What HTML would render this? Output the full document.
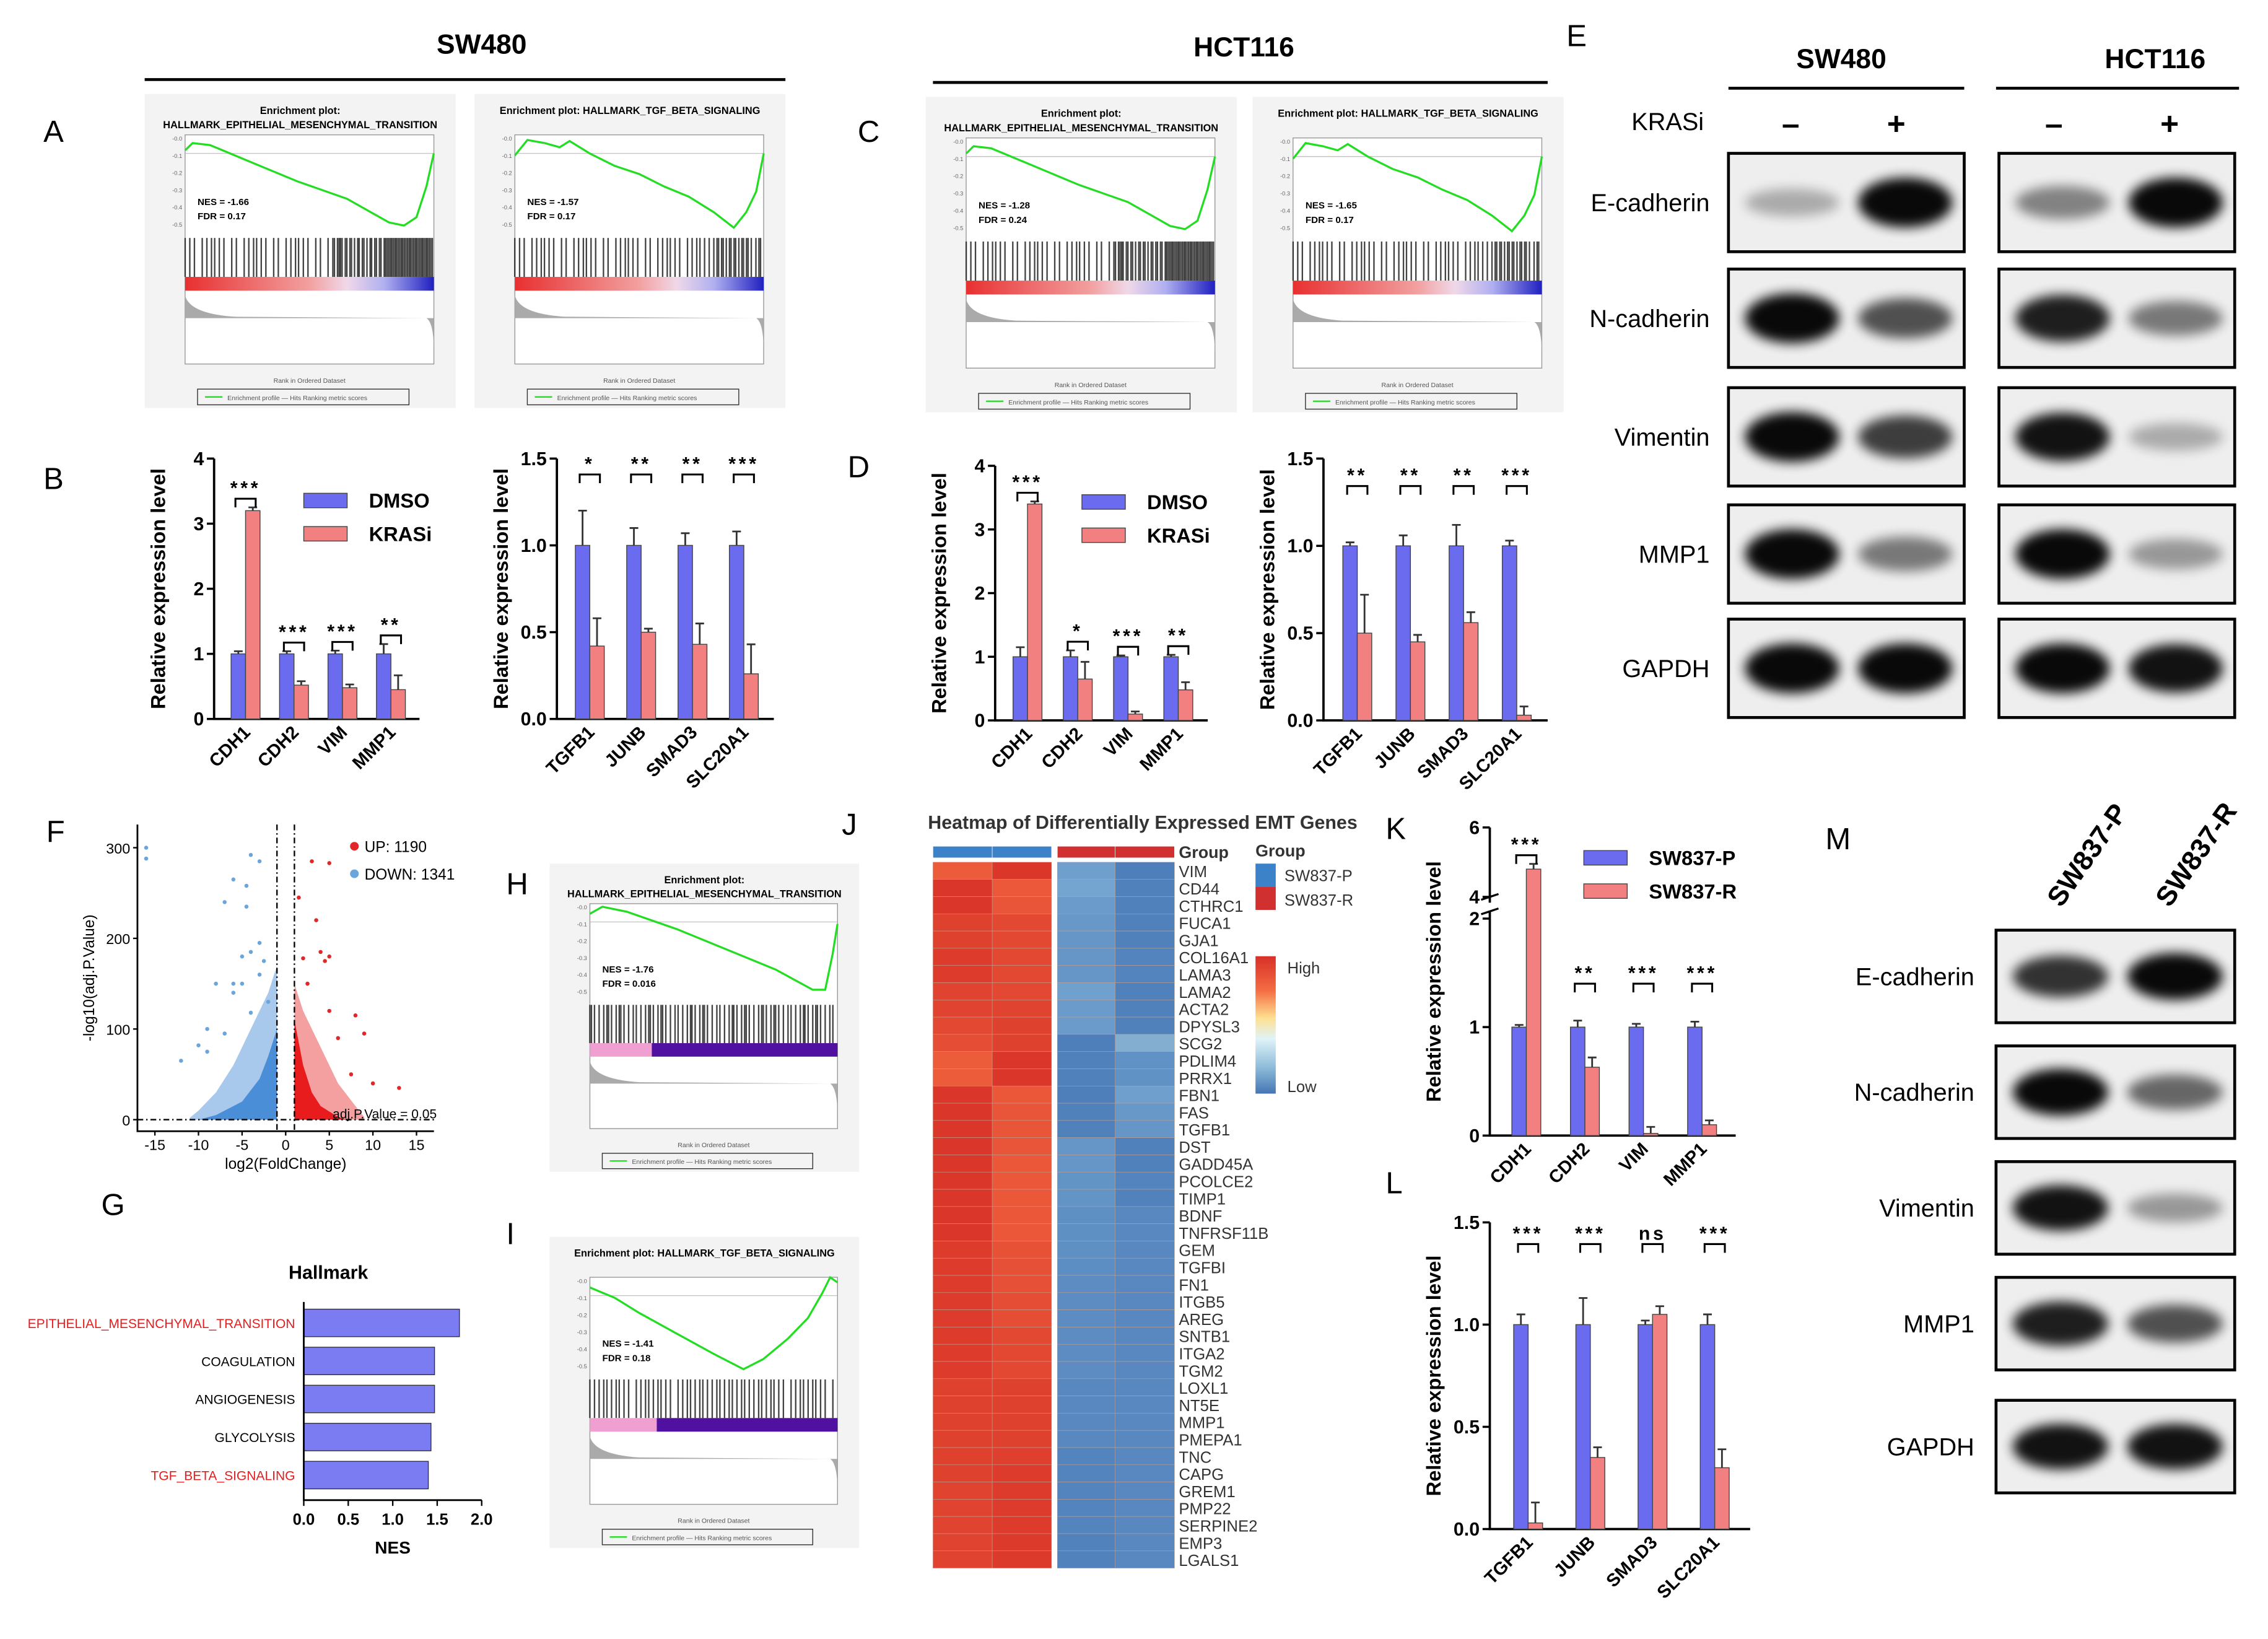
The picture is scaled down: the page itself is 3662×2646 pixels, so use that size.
<!DOCTYPE html>
<html><head><meta charset="utf-8"><style>
html,body{margin:0;padding:0;background:#fff}
svg{display:block;font-family:"Liberation Sans",Arial,sans-serif}
</style></head><body>
<svg id="fig" xmlns="http://www.w3.org/2000/svg" width="3662" height="2646" viewBox="0 0 1568 1133">
<defs>
<filter id="blur" x="-30%" y="-60%" width="160%" height="220%"><feGaussianBlur stdDeviation="4"/></filter>
<linearGradient id="cbar" x1="0" y1="0" x2="0" y2="1">
<stop offset="0" stop-color="#d73027"/><stop offset="0.25" stop-color="#f46d43"/><stop offset="0.45" stop-color="#fee090"/><stop offset="0.6" stop-color="#e0f3f8"/><stop offset="0.8" stop-color="#91bfdb"/><stop offset="1" stop-color="#4575b4"/></linearGradient>
<linearGradient id="gsbar" x1="0" y1="0" x2="1" y2="0">
<stop offset="0" stop-color="#e83030"/><stop offset="0.5" stop-color="#f2a0a0"/><stop offset="0.65" stop-color="#f0d8e8"/><stop offset="0.8" stop-color="#b0b0f0"/><stop offset="1" stop-color="#2020c0"/></linearGradient>
</defs>
<g id="static" font-weight="bold">
<text x="333" y="37" font-size="19" text-anchor="middle">SW480</text>
<line x1="100" y1="55" x2="543" y2="55" stroke="#000" stroke-width="2"/>
<text x="860" y="39" font-size="19" text-anchor="middle">HCT116</text>
<line x1="645" y1="57" x2="1070" y2="57" stroke="#000" stroke-width="2"/>
<text x="1273" y="47" font-size="19" text-anchor="middle">SW480</text>
<line x1="1195" y1="61" x2="1358" y2="61" stroke="#000" stroke-width="2"/>
<text x="1490" y="47" font-size="19" text-anchor="middle">HCT116</text>
<line x1="1380" y1="61" x2="1548" y2="61" stroke="#000" stroke-width="2"/>
</g>
<g id="letters" font-size="21" font-weight="normal">
<text x="30" y="98">A</text>
<text x="30" y="338">B</text>
<text x="593" y="98">C</text>
<text x="586" y="330">D</text>
<text x="1083" y="32">E</text>
<text x="32" y="582">F</text>
<text x="70" y="840">G</text>
<text x="350" y="618">H</text>
<text x="350" y="860">I</text>
<text x="582" y="577">J</text>
<text x="958" y="580">K</text>
<text x="958" y="825">L</text>
<text x="1262" y="587">M</text>
</g>
</svg>
<script>
const NS='http://www.w3.org/2000/svg';
const svg=document.getElementById('fig');
function mk(tag,attrs,parent){const e=document.createElementNS(NS,tag);for(const k in attrs)e.setAttribute(k,attrs[k]);(parent||svg).appendChild(e);return e;}
function txt(s,attrs,parent){const e=mk('text',attrs,parent);e.textContent=s;return e;}

/* ---------------- Bar chart data ---------------- */
const catsB1=['CDH1','CDH2','VIM','MMP1'];
const dmsoB1=[1,1,1,1];
const krasB1=[3.2,0.52,0.48,0.45];
const errDB1=[0.04,0.04,0.05,0.15];
const errKB1=[0.05,0.06,0.05,0.22];
const sigB1=['***','***','***','**'];

const catsB2=['TGFB1','JUNB','SMAD3','SLC20A1'];
const dmsoB2=[1,1,1,1];
const krasB2=[0.42,0.5,0.43,0.26];
const errDB2=[0.2,0.1,0.07,0.08];
const errKB2=[0.16,0.02,0.12,0.17];
const sigB2=['*','**','**','***'];

const catsD1=['CDH1','CDH2','VIM','MMP1'];
const dmsoD1=[1,1,1,1];
const krasD1=[3.4,0.65,0.1,0.48];
const errDD1=[0.15,0.1,0.02,0.03];
const errKD1=[0.04,0.27,0.04,0.12];
const sigD1=['***','*','***','**'];

const catsD2=['TGFB1','JUNB','SMAD3','SLC20A1'];
const dmsoD2=[1,1,1,1];
const krasD2=[0.5,0.45,0.56,0.03];
const errDD2=[0.02,0.06,0.12,0.03];
const errKD2=[0.22,0.04,0.06,0.05];
const sigD2=['**','**','**','***'];

const catsK=['CDH1','CDH2','VIM','MMP1'];
const parK=[1,1,1,1];
const resK=[4.8,0.63,0.02,0.1];
const errPK=[0.02,0.06,0.03,0.05];
const errRK=[0.15,0.09,0.06,0.04];
const sigK=['***','**','***','***'];

const catsL=['TGFB1','JUNB','SMAD3','SLC20A1'];
const parL=[1,1,1,1];
const resL=[0.03,0.35,1.05,0.3];
const errPL=[0.05,0.13,0.02,0.05];
const errRL=[0.1,0.05,0.04,0.09];
const sigL=['***','***','ns','***'];

const BLUE='#6b6bf0',RED='#f28080';

function barChart(c){
  const g=mk('g',{});
  
  
  const sc=c.scale||(v=>c.y1-v/c.max*(c.y1-c.y0));
  const ax=mk('path',{d:`M${c.x0},${c.y0} V${c.y1} H${c.x1}`,stroke:'#000','stroke-width':1.6,fill:'none'},g);
  
  
  c.ticks.forEach((t,i)=>{
    const y=sc(t);
    mk('line',{x1:c.x0-5,y1:y,x2:c.x0,y2:y,stroke:'#000','stroke-width':1.5},g);
    const tl=txt(c.tickLabels[i],{x:c.x0-7,y:y+4.5,'font-size':13,'text-anchor':'end','font-weight':'bold'},g);
    
    
  });
  const yl=txt(c.ylabel,{x:0,y:0,'font-size':14,'font-weight':'bold','text-anchor':'middle',transform:`translate(${c.x0-34},${(c.y0+c.y1)/2+c.ylOff}) rotate(-90)`},g);
  
  
  const n=c.cats.length, gw=(c.x1-c.x0-8)/n, bw=c.bw||10;
  c.cats.forEach((cat,i)=>{
    const cx=c.x0+8+gw*(i+0.5)-3;
    const vals=[c.a[i],c.b[i]],errs=[c.ea[i],c.eb[i]];
    let top=c.y1;
    vals.forEach((v,j)=>{
      const x=cx-bw+j*bw, y=sc(v);
      const r=mk('rect',{x:x,y:y,width:bw,height:c.y1-y,fill:j?RED:BLUE,stroke:'#444','stroke-width':0.6},g);
      
      
      const ye=sc(v+errs[j]);
      mk('path',{d:`M${x+bw/2},${y} V${ye} M${x+bw/2-3},${ye} H${x+bw/2+3}`,stroke:'#333','stroke-width':1.2,fill:'none'},g);
      top=Math.min(top,ye);
    });
    const by=Math.min(top-6,c.sigY?c.sigY:top-6);
    mk('path',{d:`M${cx-bw/2-2},${by+6} V${by} H${cx+bw/2+2} V${by+6}`,stroke:'#000','stroke-width':1.3,fill:'none'},g);
    const st=txt(c.sig[i],{x:cx,y:by-3,'font-size':13,'text-anchor':'middle','font-weight':'bold','letter-spacing':'2'},g);
    
    
    const cl=txt(cat,{x:0,y:0,'font-size':12.5,'font-weight':'bold','text-anchor':'end',transform:`translate(${cx+4},${c.y1+10}) rotate(-45)`},g);
    
    
  });
  if(c.legend){
    c.legend.labels.forEach((lab,j)=>{
      const lr=mk('rect',{x:c.legend.x,y:c.legend.y+j*23-7,width:30,height:10,fill:j?RED:BLUE,stroke:'#444','stroke-width':0.6},g);
      
      
      const lt=txt(lab,{x:c.legend.x+45,y:c.legend.y+j*23+3,'font-size':14,'font-weight':'bold'},g);
      
      
    });
  }
}
const RL='Relative expression level';
barChart({name:'chart-b1',x0:148,x1:290,y0:317,y1:497,max:4,ticks:[0,1,2,3,4],tickLabels:['0','1','2','3','4'],cats:catsB1,a:dmsoB1,b:krasB1,ea:errDB1,eb:errKB1,sig:sigB1,ylabel:RL,ylOff:0,legend:{x:210,y:348,labels:['DMSO','KRASi']}});
barChart({name:'chart-b2',x0:385,x1:535,y0:317,y1:497,max:1.5,ticks:[0,0.5,1,1.5],tickLabels:['0.0','0.5','1.0','1.5'],cats:catsB2,a:dmsoB2,b:krasB2,ea:errDB2,eb:errKB2,sig:sigB2,ylabel:RL,ylOff:0,sigY:328});
barChart({name:'chart-d1',x0:688,x1:835,y0:322,y1:498,max:4,ticks:[0,1,2,3,4],tickLabels:['0','1','2','3','4'],cats:catsD1,a:dmsoD1,b:krasD1,ea:errDD1,eb:errKD1,sig:sigD1,ylabel:RL,ylOff:0,legend:{x:748,y:349,labels:['DMSO','KRASi']}});
barChart({name:'chart-d2',x0:915,x1:1070,y0:317,y1:498,max:1.5,ticks:[0,0.5,1,1.5],tickLabels:['0.0','0.5','1.0','1.5'],cats:catsD2,a:dmsoD2,b:krasD2,ea:errDD2,eb:errKD2,sig:sigD2,ylabel:RL,ylOff:0,sigY:336});
const kScale=v=>v<=2?785-v*75:620-(v-4)*24;
barChart({name:'chart-k',x0:1030,x1:1200,y0:572,y1:785,scale:kScale,ticks:[0,1,2,4,6],tickLabels:['0','1','2','4','6'],cats:catsK,a:parK,b:resK,ea:errPK,eb:errRK,sig:sigK,ylabel:RL,ylOff:0,legend:{x:1095,y:595,labels:['SW837-P','SW837-R']},sigY:680});
mk('rect',{x:1024,y:624,width:12,height:6,fill:'#fff'});
mk('path',{d:'M1024,622 l12,-4 M1024,632 l12,-4',stroke:'#000','stroke-width':1.4});
barChart({name:'chart-l',x0:1030,x1:1210,y0:845,y1:1057,max:1.5,ticks:[0,0.5,1,1.5],tickLabels:['0.0','0.5','1.0','1.5'],cats:catsL,a:parL,b:resL,ea:errPL,eb:errRL,sig:sigL,ylabel:RL,ylOff:0,sigY:860});

/* ---------------- GSEA panels ---------------- */
function gsea(name,x,y,w,h,t1,t2,nes,fdr,curve,hitDensity,split){
  const g=mk('g',{});
  
  
  mk('rect',{x:x,y:y,width:w,height:h,fill:'#f3f3f3'},g);
  txt(t1,{x:x+w/2,y:y+0.045*h+4,'font-size':7,'font-weight':'bold','text-anchor':'middle'},g);
  if(t2)txt(t2,{x:x+w/2,y:y+0.095*h+3,'font-size':7,'font-weight':'bold','text-anchor':'middle'},g);
  const px=x+0.13*w,pw=0.8*w,py=y+0.13*h,ph=0.73*h;
  mk('rect',{x:px,y:py,width:pw,height:ph,fill:'#fff',stroke:'#999','stroke-width':0.6},g);
  const cTop=py,cBot=py+0.45*ph;
  mk('line',{x1:px,y1:cTop+0.18*(cBot-cTop),x2:px+pw,y2:cTop+0.18*(cBot-cTop),stroke:'#bbb','stroke-width':0.5},g);
  let d='';
  curve.forEach((p,i)=>{d+=(i?'L':'M')+(px+p[0]*pw).toFixed(1)+','+(cTop+p[1]*(cBot-cTop)).toFixed(1);});
  const cp=mk('path',{d:d,stroke:'#22dd22','stroke-width':1.4,fill:'none'},g);
  
  
  for(let i=0;i<6;i++)txt('-0.'+i,{x:px-2,y:cTop+4+i*(cBot-cTop)/6,'font-size':4,'text-anchor':'end',fill:'#666'},g);
  txt(nes,{x:px+0.05*pw,y:cTop+0.68*(cBot-cTop),'font-size':6.5,'font-weight':'bold'},g);
  txt(fdr,{x:px+0.05*pw,y:cTop+0.82*(cBot-cTop),'font-size':6.5,'font-weight':'bold'},g);
  const hTop=cBot,hBot=py+0.62*ph;
  let hd='';
  for(let i=0;i<160;i++){
    const f=i/160;
    const dens=hitDensity(f);
    if(((i*37)%100)/100<dens) hd+=`M${(px+f*pw).toFixed(1)},${hTop} V${hBot}`;
  }
  mk('path',{d:hd,stroke:'#222','stroke-width':1,fill:'none',opacity:0.85},g);
  mk('rect',{x:px,y:hBot,width:pw,height:0.06*ph,fill:split?'none':'url(#gsbar)'},g);
  if(split){
    mk('rect',{x:px,y:hBot,width:pw*split,height:0.06*ph,fill:'#f0a0d0'},g);
    mk('rect',{x:px+pw*split,y:hBot,width:pw*(1-split),height:0.06*ph,fill:'#5010a0'},g);
  }
  const zy=py+0.8*ph;
  mk('path',{d:`M${px},${py+0.7*ph} Q${px+3},${zy-3} ${px+0.2*pw},${zy-1} L${px+pw*0.97},${zy} Q${px+pw},${zy+3} ${px+pw},${py+0.95*ph} L${px+pw},${zy} L${px},${zy} Z`,fill:'#aaa'},g);
  txt('Rank in Ordered Dataset',{x:px+pw/2,y:y+0.92*h,'font-size':4.5,'text-anchor':'middle',fill:'#555'},g);
  mk('rect',{x:px+0.05*pw,y:y+0.94*h,width:0.85*pw,height:0.05*h,fill:'none',stroke:'#333','stroke-width':0.6},g);
  mk('line',{x1:px+0.08*pw,y1:y+0.965*h,x2:px+0.15*pw,y2:y+0.965*h,stroke:'#22dd22','stroke-width':1},g);
  txt('Enrichment profile — Hits     Ranking metric scores',{x:px+0.17*pw,y:y+0.975*h,'font-size':4.5,fill:'#555'},g);
}
const curveEMT=[[0,0.15],[0.03,0.08],[0.1,0.1],[0.25,0.25],[0.45,0.45],[0.65,0.62],[0.82,0.85],[0.88,0.88],[0.93,0.8],[0.97,0.5],[1,0.18]];
const curveTGF=[[0,0.2],[0.05,0.05],[0.12,0.08],[0.18,0.12],[0.22,0.06],[0.3,0.18],[0.4,0.3],[0.5,0.38],[0.6,0.5],[0.7,0.6],[0.8,0.75],[0.88,0.9],[0.93,0.75],[0.97,0.55],[1,0.18]];
const curveH=[[0,0.1],[0.05,0.03],[0.15,0.08],[0.35,0.25],[0.55,0.45],[0.75,0.65],[0.9,0.85],[0.95,0.85],[0.98,0.5],[1,0.2]];
const curveI=[[0,0.1],[0.1,0.2],[0.2,0.35],[0.35,0.55],[0.5,0.75],[0.62,0.9],[0.7,0.8],[0.8,0.6],[0.88,0.4],[0.94,0.15],[0.97,0.0],[1,0.05]];
const dA=f=>f<0.6?0.3:(f<0.8?0.65:1);
gsea('gsea-a-emt',100,65,215,217,'Enrichment plot:','HALLMARK_EPITHELIAL_MESENCHYMAL_TRANSITION','NES = -1.66','FDR = 0.17',curveEMT,dA);
gsea('gsea-a-tgf',328,65,215,217,'Enrichment plot: HALLMARK_TGF_BETA_SIGNALING','','NES = -1.57','FDR = 0.17',curveTGF,f=>f<0.8?0.3:0.6);
gsea('gsea-c-emt',640,67,215,218,'Enrichment plot:','HALLMARK_EPITHELIAL_MESENCHYMAL_TRANSITION','NES = -1.28','FDR = 0.24',curveEMT,dA);
gsea('gsea-c-tgf',866,67,215,218,'Enrichment plot: HALLMARK_TGF_BETA_SIGNALING','','NES = -1.65','FDR = 0.17',curveTGF,f=>f<0.8?0.3:0.6);
gsea('gsea-h',380,597,214,213,'Enrichment plot:','HALLMARK_EPITHELIAL_MESENCHYMAL_TRANSITION','NES = -1.76','FDR = 0.016',curveH,f=>0.45,0.25);
gsea('gsea-i',380,855,214,215,'Enrichment plot: HALLMARK_TGF_BETA_SIGNALING','','NES = -1.41','FDR = 0.18',curveI,f=>0.35,0.27);

/* ---------------- Western blots ---------------- */
const wbProteins=['E-cadherin','N-cadherin','Vimentin','MMP1','GAPDH'];
const wbSW480=[[0.15,0.95],[0.95,0.6],[0.95,0.7],[0.95,0.4],[0.95,0.95]];
const wbHCT116=[[0.35,0.95],[0.85,0.4],[0.9,0.15],[0.95,0.25],[0.95,0.9]];
const wbRowsE=[140,220,302,383,462];
const mProteins=['E-cadherin','N-cadherin','Vimentin','MMP1','GAPDH'];
const wbSW837=[[0.75,0.95],[0.95,0.5],[0.9,0.25],[0.85,0.6],[0.9,0.9]];
const wbRowsM=[675,755,835,915,1000];
function blot(name,x,yc,w,h,ints){
  const g=mk('g',{});
  
  
  mk('rect',{x:x,y:yc-h/2,width:w,height:h,fill:'#eeeeee',stroke:'#000','stroke-width':2},g);
  ints.forEach((v,i)=>{
    const cx=x+w*(0.27+i*0.48);
    const b=mk('ellipse',{cx:cx,cy:yc,rx:w*0.2,ry:h*(0.12+0.14*v),fill:'#000',opacity:(0.15+0.85*v).toFixed(2),filter:'url(#blur)'},g);
    
    
  });
}
wbProteins.forEach((p,i)=>{
  const l=txt(p,{x:1182,y:wbRowsE[i]+6,'font-size':17,'text-anchor':'end'});
  
  
  blot('blot-sw480-'+p.toLowerCase(),1195,wbRowsE[i],163,68,wbSW480[i]);
  blot('blot-hct116-'+p.toLowerCase(),1382,wbRowsE[i],163,68,wbHCT116[i]);
});
txt('KRASi',{x:1178,y:90,'font-size':17,'text-anchor':'end'});
[[1238,'–'],[1311,'+'],[1420,'–'],[1500,'+']].forEach(a=>txt(a[1],{x:a[0],y:93,'font-size':22,'font-weight':'bold','text-anchor':'middle'}));
mProteins.forEach((p,i)=>{
  const l=txt(p,{x:1365,y:wbRowsM[i]+6,'font-size':17,'text-anchor':'end'});
  
  
  blot('blot-sw837-'+p.toLowerCase(),1380,wbRowsM[i],165,64,wbSW837[i]);
});
txt('SW837-P',{x:0,y:0,'font-size':19,'font-weight':'bold',transform:'translate(1425,628) rotate(-55)'});
txt('SW837-R',{x:0,y:0,'font-size':19,'font-weight':'bold',transform:'translate(1500,628) rotate(-55)'});

/* ---------------- Heatmap ---------------- */
const genes=['VIM','CD44','CTHRC1','FUCA1','GJA1','COL16A1','LAMA3','LAMA2','ACTA2','DPYSL3','SCG2','PDLIM4','PRRX1','FBN1','FAS','TGFB1','DST','GADD45A','PCOLCE2','TIMP1','BDNF','TNFRSF11B','GEM','TGFBI','FN1','ITGB5','AREG','SNTB1','ITGA2','TGM2','LOXL1','NT5E','MMP1','PMEPA1','TNC','CAPG','GREM1','PMP22','SERPINE2','EMP3','LGALS1'];
const hmP1=[0.82,0.97,0.97,0.93,0.93,0.95,0.95,0.92,0.92,0.9,0.88,0.82,0.82,0.97,0.97,0.97,0.97,0.97,0.97,0.97,0.97,0.97,0.95,0.95,0.95,0.95,0.95,0.95,0.95,0.95,0.93,0.93,0.93,0.93,0.93,0.93,0.92,0.92,0.92,0.92,0.92];
const hmP2=[0.97,0.83,0.85,0.9,0.9,0.9,0.9,0.9,0.92,0.93,0.93,0.97,0.97,0.84,0.85,0.85,0.85,0.84,0.84,0.84,0.84,0.84,0.86,0.87,0.87,0.88,0.88,0.9,0.9,0.9,0.93,0.93,0.93,0.93,0.94,0.95,0.95,0.95,0.95,0.96,0.96];
const hmR1=[0.22,0.25,0.2,0.18,0.17,0.17,0.17,0.23,0.2,0.2,0.05,0.06,0.06,0.05,0.06,0.06,0.17,0.17,0.16,0.16,0.14,0.14,0.14,0.13,0.12,0.12,0.12,0.12,0.12,0.12,0.1,0.1,0.1,0.1,0.08,0.08,0.08,0.08,0.08,0.07,0.07];
const hmR2=[0.05,0.06,0.06,0.06,0.06,0.08,0.08,0.06,0.06,0.06,0.28,0.15,0.15,0.22,0.18,0.17,0.06,0.06,0.08,0.07,0.1,0.1,0.1,0.1,0.1,0.1,0.1,0.1,0.1,0.1,0.1,0.1,0.1,0.1,0.1,0.1,0.1,0.1,0.1,0.1,0.1];
const hmCols=[hmP1,hmP2,hmR1,hmR2];
const cmapStops=[[0,[69,117,180]],[0.25,[116,165,208]],[0.5,[250,240,200]],[0.75,[244,109,67]],[1,[215,48,39]]];
function cmap(v){for(let i=1;i<cmapStops.length;i++){const a=cmapStops[i-1],b=cmapStops[i];if(v<=b[0]){const t=(v-a[0])/(b[0]-a[0]);return 'rgb('+a[1].map((c,k)=>Math.round(c+(b[1][k]-c)*t)).join(',')+')';}}return 'rgb(215,48,39)';}
txt('Heatmap of Differentially Expressed EMT Genes',{x:790,y:573,'font-size':13,'font-weight':'bold','text-anchor':'middle',fill:'#333'});
const hmX=[645,686,731,771],hmW=41,hmY0=596,rowH=(1084-596)/genes.length;
const grpColors=['#3b82c8','#3b82c8','#d03030','#d03030'];
hmX.forEach((x,j)=>{
  const gr=mk('rect',{x:x,y:585,width:hmW,height:8,fill:grpColors[j],stroke:'#fff','stroke-width':0.3});
  
  
});
txt('Group',{x:815,y:593,'font-size':11.5,'font-weight':'bold',fill:'#333'});
genes.forEach((gname,i)=>{
  const y=hmY0+i*rowH;
  hmCols.forEach((col,j)=>{
    const c=mk('rect',{x:hmX[j],y:y,width:hmW,height:rowH,fill:cmap(col[i]),stroke:'#c0a090','stroke-width':0.25});
    
    
  });
  const gl=txt(gname,{x:815,y:y+rowH-1.5,'font-size':11,fill:'#333'});
  
  
});
txt('Group',{x:868,y:592,'font-size':11.5,'font-weight':'bold',fill:'#333'});
mk('rect',{x:868,y:597,width:14,height:16,fill:'#3b82c8'});
mk('rect',{x:868,y:613,width:14,height:16,fill:'#d03030'});
txt('SW837-P',{x:888,y:609,'font-size':11,fill:'#333'});
txt('SW837-R',{x:888,y:626,'font-size':11,fill:'#333'});
mk('rect',{x:868,y:661,width:14,height:95,fill:'url(#cbar)'});
txt('High',{x:890,y:673,'font-size':11,fill:'#333'});
txt('Low',{x:890,y:755,'font-size':11,fill:'#333'});

/* ---------------- Volcano (F) ---------------- */
const vx0=95,vx1=300,vy0=570,vy1=782;
const vXScale=v=>vx0+(v+17)/(17+17)*(vx1-vx0);
const vYScale=v=>vy1-8-v/300*(vy1-vy0-24);
const vg=mk('g',{});


const downOuter=[[-1,0],[-1,170],[-2,140],[-4,100],[-6,60],[-8,30],[-10,10],[-11,2],[-11,0]];
const downDense=[[-1,0],[-1,100],[-2,70],[-3,45],[-5,20],[-8,5],[-10,0]];
const upOuter=[[1,0],[1,150],[2,120],[4,80],[6,40],[8,15],[9,3],[9,0]];
const upDense=[[1,0],[1,110],[2,60],[3,30],[4,15],[6,3],[7,0]];
[[downOuter,'#a8c8ec','down-regulated-sparse'],[upOuter,'#f4a0a0','up-regulated-sparse'],[downDense,'#4a8ed8','down-regulated-dense'],[upDense,'#e81c1c','up-regulated-dense']].forEach(s=>{
  const p=mk('polygon',{points:s[0].map(q=>vXScale(q[0])+','+vYScale(q[1])).join(' '),fill:s[1]},vg);
  
  
});
const downPts=[[-16,300],[-16,288],[-4,292],[-3,285],[-6,265],[-4.5,258],[-7,240],[-4.5,235],[-3,195],[-4,185],[-5,180],[-2.5,175],[-8,150],[-6,150],[-5,150],[-3,160],[-6,140],[-2,130],[-4,118],[-9,100],[-7,95],[-12,65],[-9,75],[-10,82]];
const upPts=[[3,285],[5,283],[1.5,245],[3.5,220],[4,185],[2,178],[5,180],[4.5,175],[2.5,150],[5,120],[8,115],[9,95],[6,90],[10,40],[13,35],[7.5,50]];
downPts.forEach(p=>{const c=mk('circle',{cx:vXScale(p[0]),cy:vYScale(p[1]),r:1.4,fill:'#6aa6dc'},vg);});
upPts.forEach(p=>{const c=mk('circle',{cx:vXScale(p[0]),cy:vYScale(p[1]),r:1.4,fill:'#e02828'},vg);});
mk('path',{d:`M${vx0},${vy0} V${vy1} H${vx1}`,stroke:'#000','stroke-width':1.2,fill:'none'},vg);
mk('path',{d:`M${vXScale(-1)},${vy0} V${vy1} M${vXScale(1)},${vy0} V${vy1} M${vx0},${vYScale(0)} H${vx1}`,stroke:'#000','stroke-width':1,'stroke-dasharray':'4,2,1,2'},vg);
const vyt=[0,100,200,300];
vyt.forEach(t=>{mk('line',{x1:vx0-3,y1:vYScale(t),x2:vx0,y2:vYScale(t),stroke:'#000'},vg);txt(String(t),{x:vx0-5,y:vYScale(t)+4,'font-size':10,'text-anchor':'end'},vg);});
const vxt=[-15,-10,-5,0,5,10,15];
vxt.forEach(t=>{mk('line',{x1:vXScale(t),y1:vy1,x2:vXScale(t),y2:vy1+3,stroke:'#000'},vg);txt(String(t),{x:vXScale(t),y:vy1+13,'font-size':10,'text-anchor':'middle'},vg);});
txt('log2(FoldChange)',{x:(vx0+vx1)/2,y:vy1+26,'font-size':10.5,'text-anchor':'middle'},vg);
txt('-log10(adj.P.Value)',{x:0,y:0,'font-size':10.5,'text-anchor':'middle',transform:`translate(${vx0-30},${(vy0+vy1)/2}) rotate(-90)`},vg);
mk('circle',{cx:245,cy:585,r:3,fill:'#e02828'},vg);txt('UP: 1190',{x:252,y:589,'font-size':10.5},vg);
mk('circle',{cx:245,cy:604,r:3,fill:'#6aa6dc'},vg);txt('DOWN: 1341',{x:252,y:608,'font-size':10.5},vg);
txt('adj.P.Value = 0.05',{x:230,y:773,'font-size':9},vg);

/* ---------------- NES bar chart (G) ---------------- */
const gTerms=['EPITHELIAL_MESENCHYMAL_TRANSITION','COAGULATION','ANGIOGENESIS','GLYCOLYSIS','TGF_BETA_SIGNALING'];
const gNES=[1.75,1.47,1.47,1.43,1.4];
const gRed=[true,false,false,false,true];
const gTicks=[0,0.5,1,1.5,2];
const gx0=210,gx1=333,gy0=900,gy1=1037;
const gX=v=>gx0+v/2*(gx1-gx0);
const gg=mk('g',{});


txt('Hallmark',{x:227,y:884,'font-size':13,'font-weight':'bold','text-anchor':'middle'},gg);
gTerms.forEach((t,i)=>{
  const y=gy0+5+i*26.3;
  const b=mk('rect',{x:gx0,y:y,width:gX(gNES[i])-gx0,height:19,fill:'#7b7bf2',stroke:'#333','stroke-width':0.6},gg);
  
  
  const l=txt(t,{x:gx0-6,y:y+13,'font-size':9,'text-anchor':'end',fill:gRed[i]?'#e02020':'#000'},gg);
  
  
});
mk('path',{d:`M${gx0},${gy0} V${gy1} H${gx1}`,stroke:'#000','stroke-width':1.2,fill:'none'},gg);
gTicks.forEach(t=>{mk('line',{x1:gX(t),y1:gy1,x2:gX(t),y2:gy1+4,stroke:'#000'},gg);txt(t.toFixed(1),{x:gX(t),y:gy1+17,'font-size':11,'font-weight':'bold','text-anchor':'middle'},gg);});
txt('NES',{x:(gx0+gx1)/2,y:gy1+37,'font-size':12,'font-weight':'bold','text-anchor':'middle'},gg);
</script>
</body></html>
